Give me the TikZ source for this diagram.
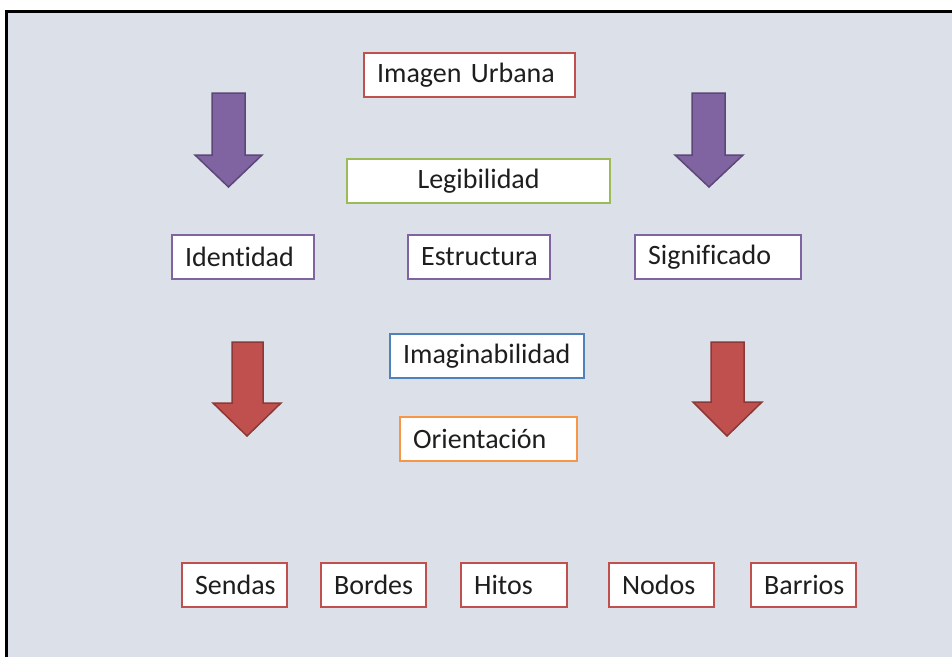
\documentclass[tikz,border=0pt]{standalone}
\usepackage{fontspec}
\setmainfont{Carlito}[Ligatures=CommonOff]
\definecolor{bgc}{RGB}{220,225,233}
\definecolor{txt}{RGB}{30,30,30}
\definecolor{redb}{RGB}{192,80,77}
\definecolor{redd}{RGB}{140,56,54}
\definecolor{purb}{RGB}{128,100,162}
\definecolor{purd}{RGB}{92,71,118}
\definecolor{greenb}{RGB}{155,187,89}
\definecolor{blueb}{RGB}{79,129,189}
\definecolor{orangeb}{RGB}{247,150,70}
\tikzset{
  bx/.style={draw, fill=white, line width=2.2pt, minimum height=44pt,
    inner xsep=13pt, inner ysep=0pt, align=left, anchor=west,
    font=\fontsize{28}{32}\selectfont, text=txt},
  purarrow/.style={fill=purb, draw=purd, line width=1.5pt, line join=miter},
  redarrow/.style={fill=redb, draw=redd, line width=1.5pt, line join=miter}
}
\begin{document}
\begin{tikzpicture}[x=1pt,y=-1pt]
\useasboundingbox (0,0) rectangle (952,657);
\fill[white] (0,0) rectangle (952,657);
\fill[bgc] (6.5,11.5) rectangle (952,657);
\draw[line width=3pt] (6.5,657) -- (6.5,11.5) -- (952,11.5);

% arrows
\draw[purarrow] (212,93) -- (245,93) -- (245,155) -- (262,155) -- (228.5,187) -- (195,155) -- (212,155) -- cycle;
\draw[purarrow] (692,93) -- (725,93) -- (725,155) -- (743,155) -- (709,187) -- (675,155) -- (692,155) -- cycle;
\draw[redarrow] (232,342) -- (263,342) -- (263,403) -- (281,403) -- (247,436) -- (213,403) -- (232,403) -- cycle;
\draw[redarrow] (711,342) -- (744,342) -- (744,402) -- (762,402) -- (727,436) -- (693,402) -- (711,402) -- cycle;

% boxes
\node[bx, draw=redb, text width=185pt] (imagen) at (363,75) {Imagen Urbana};
\node[bx, draw=greenb, text width=237pt, align=center] (legib) at (346,181) {Legibilidad};
\node[bx, draw=purb, text width=116pt] (ident) at (171,257) {Identidad};
\node[bx, draw=purb, text width=116pt] (estru) at (407,257) {Estructura};
\node[bx, draw=purb, text width=140pt] (signi) at (634,257) {Significado};
\node[bx, draw=blueb, text width=168pt] (imagin) at (389,356) {Imaginabilidad};
\node[bx, draw=orangeb, text width=151pt] (orient) at (399,439) {Orientación};
\node[bx, draw=redb, text width=79pt] (sendas) at (181,585) {Sendas};
\node[bx, draw=redb, text width=79pt] (bordes) at (320,585) {Bordes};
\node[bx, draw=redb, text width=80pt] (hitos) at (460,585) {Hitos};
\node[bx, draw=redb, text width=79pt] (nodos) at (608,585) {Nodos};
\node[bx, draw=redb, text width=79pt] (barrios) at (750,585) {Barrios};
\end{tikzpicture}
\end{document}
